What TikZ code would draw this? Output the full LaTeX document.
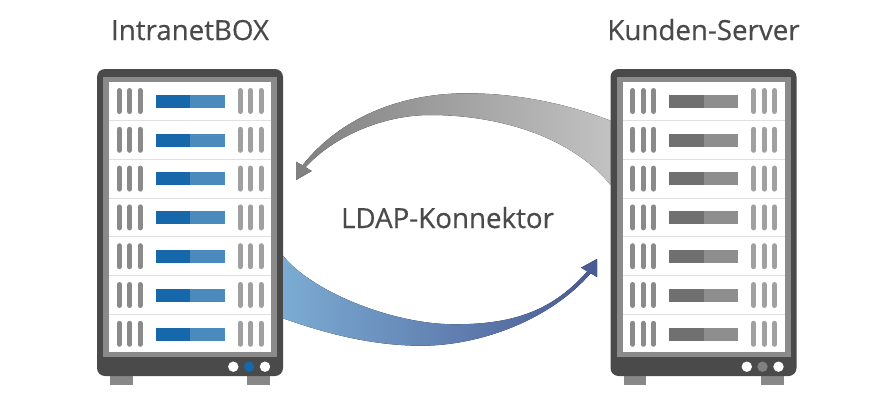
\documentclass[tikz,border=0pt]{standalone}
\usepackage{fontspec}
\setmainfont{Open Sans}[FakeBold=0.45]
\definecolor{frameout}{HTML}{4A4A4A}
\definecolor{frameinner}{HTML}{8A8A8A}
\definecolor{rowline}{HTML}{E0E0E0}
\definecolor{foot}{HTML}{888888}
\definecolor{ventl}{HTML}{8A8A8A}
\definecolor{ventr}{HTML}{A0A0A0}
\definecolor{blueA}{HTML}{1668AB}
\definecolor{blueB}{HTML}{4A8ABC}
\definecolor{greyA}{HTML}{707070}
\definecolor{greyB}{HTML}{8E8E8E}
\definecolor{greyC}{HTML}{808080}
\definecolor{txt}{HTML}{4A4A4A}
\definecolor{arrowL}{HTML}{7BABD2}
\definecolor{arrowR}{HTML}{4A5A94}
\tikzset{
  label text/.style={font=\fontsize{27.7}{32}\selectfont,text=txt,inner sep=0pt,anchor=base},
  vent/.style={line width=5pt,line cap=round},
}
\newcommand{\drawserver}[4]{%
  \begin{scope}[xshift=#1pt]
    \fill[foot] (110,374) rectangle (132.7,385);
    \fill[foot] (247.3,374) rectangle (270.3,385);
    \fill[frameout,rounded corners=8pt] (97,69) rectangle (283,376);
    \fill[frameinner] (103,77) rectangle (277,357);
    \fill[white] (109,82) rectangle (271,352);
    \foreach \k in {0,...,5}{
      \draw[rowline,line width=0.7pt] (109,120.3+38.8*\k) -- (271,120.3+38.8*\k);
    }
    \foreach \k in {0,...,6}{
      \foreach \x in {119.3,129.7,140}{
        \draw[vent,ventl] (\x,90.5+38.8*\k) -- (\x,111.5+38.8*\k);
      }
      \foreach \x in {240.2,250.5,261}{
        \draw[vent,ventr] (\x,90.5+38.8*\k) -- (\x,111.5+38.8*\k);
      }
      \fill[#2] (155.7,94.7+38.8*\k) rectangle (190,107.7+38.8*\k);
      \fill[#3] (190,94.7+38.8*\k) rectangle (224.5,107.7+38.8*\k);
    }
    \fill[white] (233.3,366.7) circle (5.2);
    \fill[#4] (249,366.7) circle (5.2);
    \fill[white] (265,366.7) circle (5.2);
  \end{scope}
}
\begin{document}
\begin{tikzpicture}[x=1pt,y=-1pt]
  \useasboundingbox (0,0) rectangle (895,402);
  \fill[white] (0,0) rectangle (895,402);
  \drawserver{0}{blueA}{blueB}{blueA}
  \drawserver{513.5}{greyA}{greyB}{greyC}
  % grey arrow, Kunden-Server to IntranetBOX
  \fill[left color=greyC,right color=black!24]
    (610.5,120.7) .. controls (565,103) and (515,93.3) .. (466.7,93.3)
    .. controls (400,93.3) and (340,118) .. (302.5,165.3)
    -- (296,161.7) -- (296,180) -- (311.7,171) -- (305.5,167.2)
    .. controls (335,135) and (385,115) .. (430,115)
    .. controls (505,115) and (575,140) .. (610.5,185) -- cycle;
  % blue arrow, IntranetBOX to Kunden-Server
  \fill[left color=arrowL,right color=arrowR]
    (283,255.7) .. controls (310,290) and (390,324.3) .. (455,324.3)
    .. controls (515,324.3) and (553,310) .. (587.3,271.4)
    -- (581,267.7) -- (597,259) -- (597,277) -- (590.7,273.3)
    .. controls (550,320) and (480,345.7) .. (421.7,345.7)
    .. controls (375,345.7) and (330,335) .. (283,318.3) -- cycle;
  \node[label text] (boxlabel) at (190,40) {IntranetBOX};
  \node[label text] (serverlabel) at (703.5,40) {Kunden-Server};
  \node[label text] (connlabel) at (447.5,228) {LDAP-Konnektor};
\end{tikzpicture}
\end{document}
